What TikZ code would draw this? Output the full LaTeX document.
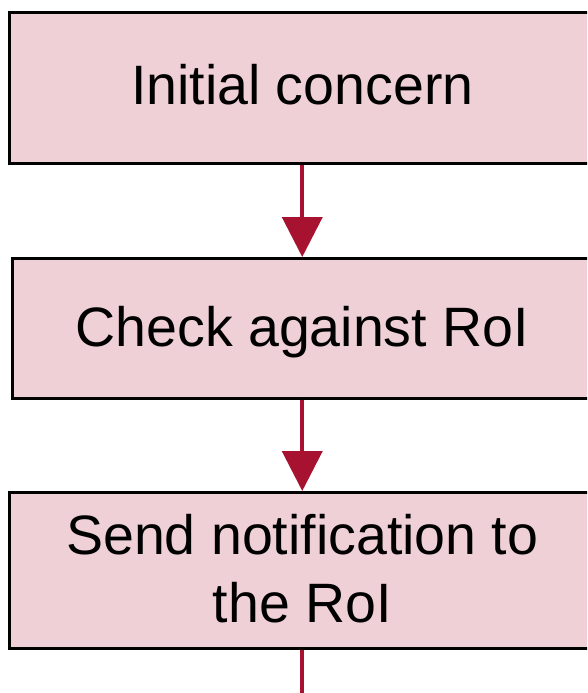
\documentclass[tikz,border=0pt]{standalone}
\usepackage{fontspec}
\setmainfont{Liberation Sans}
\usetikzlibrary{arrows.meta}
\definecolor{boxpink}{HTML}{EED0D6}
\definecolor{arrowred}{HTML}{A6122F}
\tikzset{
  flowbox/.style={draw=black, line width=3pt, fill=boxpink, rectangle, inner sep=0pt},
  flowtext/.style={font=\fontsize{55.5}{68}\selectfont, inner sep=0pt, align=center},
  flowarrow/.style={draw=arrowred, line width=4pt,
    -{Triangle[length=40pt,width=40pt,color=arrowred]}},
  flowline/.style={draw=arrowred, line width=4pt}
}
\begin{document}
\begin{tikzpicture}[x=1pt,y=-1pt]
\useasboundingbox (0,0) rectangle (587,693);
\clip (0,0) rectangle (587,693);
\node[flowbox, minimum width=585.5pt, minimum height=151pt] (a) at (302.25,88) {};
\node[flowtext, anchor=base] (at) at (302.25,104) {Initial concern};
\node[flowbox, minimum width=579.5pt, minimum height=139.5pt] (b) at (302.25,328.25) {};
\node[flowtext, anchor=base] (bt) at (302.25,346) {Check against RoI};
\node[flowbox, minimum width=585.5pt, minimum height=156pt] (c) at (302.25,570.5) {};
\node[flowtext, anchor=base] (ct) at (302.25,622) {Send notification to\\the RoI};
\coordinate (end) at (302.25,700);
\draw[flowarrow] (a.south) -- (b.north);
\draw[flowarrow] (b.south) -- (c.north);
\draw[flowline] (c.south) -- (end);
\end{tikzpicture}
\end{document}
